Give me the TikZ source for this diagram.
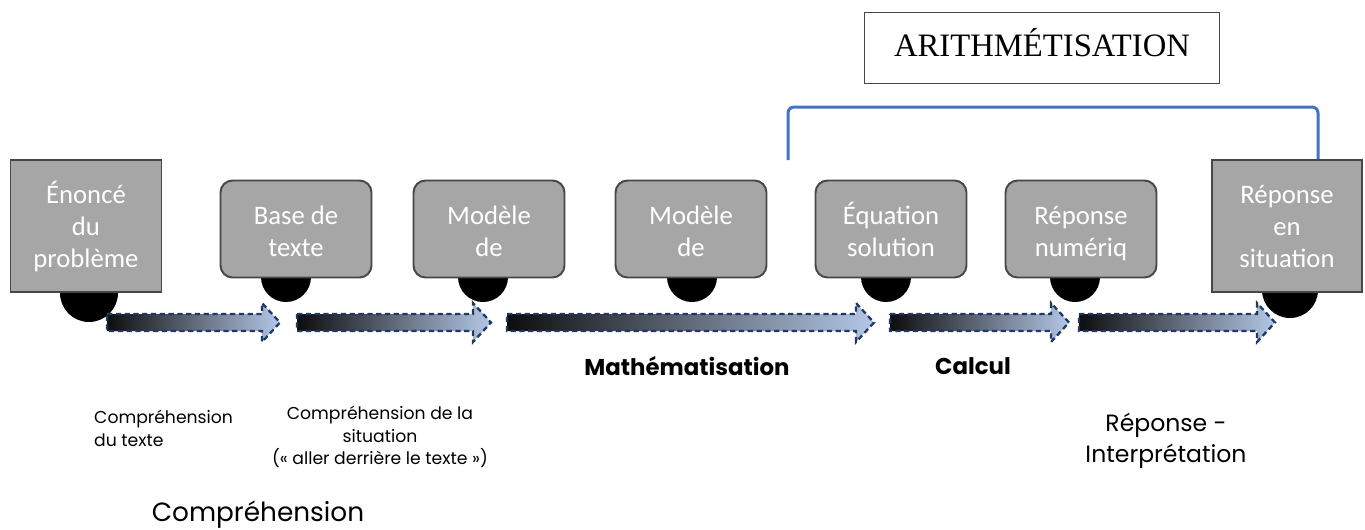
\documentclass[tikz,border=0pt]{standalone}
\usepackage{fontspec}
\setmainfont{Liberation Serif}
\newfontfamily\boxfont{Carlito}
\newfontfamily\labelfont{Poppins}
\definecolor{boxgray}{HTML}{A6A6A6}
\definecolor{boxline}{HTML}{474747}
\definecolor{arrownavy}{HTML}{203864}
\definecolor{arrowblue}{HTML}{B4C7E7}
\definecolor{bracketblue}{HTML}{4472C4}

\begin{document}
\begin{tikzpicture}[
		x=0.02cm, y=-0.02cm,
		stage/.style={draw=boxline, line width=1.1pt, fill=boxgray, text=white,
				font=\boxfont\fontsize{15.2}{18.2}\selectfont, align=center,
				minimum width=3.02cm, minimum height=1.94cm, rounded corners=0.24cm,
				inner ysep=0pt, text height=1.52cm, text depth=0.42cm},
		endstage/.style={stage, rounded corners=0pt, minimum width=3.02cm, minimum height=2.64cm,
				inner ysep=0pt, text height=2.14cm, text depth=0.5cm},
		wheel/.style={circle, fill=black, inner sep=0pt, minimum size=1.0cm},
		flow/.style={draw=arrownavy, line width=1.3pt, dash pattern=on 3pt off 2pt,
				left color=black!95, right color=arrowblue},
		phase/.style={font=\labelfont\bfseries\fontsize{13}{15}\selectfont},
		note/.style={font=\labelfont\fontsize{9.8}{13}\selectfont, align=center}
	]
	\useasboundingbox (0,0) rectangle (1365,529);

	% wheels under the stages
	\node[wheel, minimum size=1.16cm] (w1) at (89,293) {};
	\node[wheel] (w2) at (286,277) {};
	\node[wheel] (w3) at (483,277) {};
	\node[wheel] (w4) at (692,277) {};
	\node[wheel] (w5) at (886,277) {};
	\node[wheel] (w6) at (1075,277) {};
	\node[wheel, minimum size=1.12cm] (w7) at (1290,290) {};

	% stages
	\node[endstage] (enonce) at (86,226) {Énoncé\\du\\problème};
	\node[stage] (base) at (296,229) {Base de\\texte};
	\node[stage] (modele1) at (489,229) {Modèle\\de};
	\node[stage] (modele2) at (691,229) {Modèle\\de};
	\node[stage] (equation) at (891,229) {Équation\\solution};
	\node[stage] (numerique) at (1081,229) {Réponse\\numériq};
	\node[endstage, minimum width=3.0cm] (situation) at (1287,226) {Réponse\\en\\situation};

	% block arrows
	\foreach \from/\to in {107/280, 297/491, 507/874, 890/1069, 1079/1275}
	\draw[flow] (\from,314) -- (\to-18,314) -- (\to-18,303) -- (\to,322.5)
	-- (\to-18,342) -- (\to-18,331) -- (\from,331) -- cycle;

	% arithmetisation bracket
	\node[draw=boxline, line width=0.8pt, minimum width=7.1cm, minimum height=1.42cm,
		text depth=0.24cm, font=\fontsize{18.6}{22}\selectfont] (arith) at (1042,48) {ARITHMÉTISATION};
	\coordinate (bstart) at (788,160);
	\coordinate (bend) at (situation.north -| 1318,0);
	\draw[bracketblue, line width=1.7pt, rounded corners=0.12cm]
	(bstart) -- (788,107) -- (1318,107) -- (bend);

	% phase labels
	\node[phase] (math) at (687,366) {Mathématisation};
	\node[phase] (calcul) at (973,366) {Calcul};
	\node[note, align=left, anchor=west] (comptexte) at (88,428) {Compréhension\\du texte};
	\node[note] (compsit) at (380,437) {Compréhension de la\\situation\\(« aller derrière le texte »)};
	\node[note, font=\labelfont\fontsize{13.4}{17.6}\selectfont] (interp) at (1166,441) {Réponse -\\Interprétation};
	\node[font=\labelfont\fontsize{15}{18}\selectfont] (comp) at (258,515) {Compréhension};
\end{tikzpicture}
\end{document}
